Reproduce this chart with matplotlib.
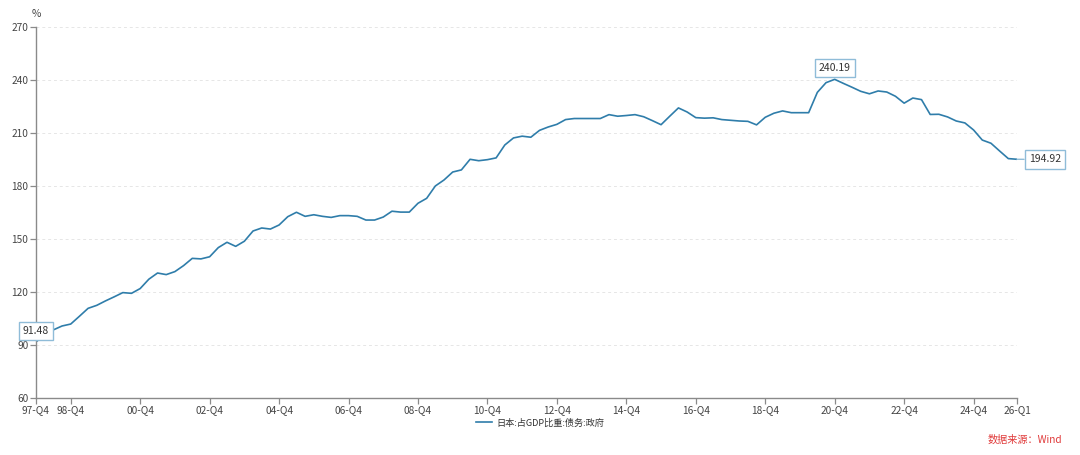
import matplotlib
matplotlib.use("Agg")
import matplotlib.pyplot as plt

plt.rcParams['font.family'] = ['Noto Sans CJK SC', 'DejaVu Sans']

# ---- data ----
series_name = "日本:占GDP比重:债务:政府"
values = [
    91.48, 95.5, 98.3, 100.5, 101.6, 106.0, 110.5, 112.2, 114.7, 117.0,
    119.4, 119.0, 121.7, 127.0, 130.5, 129.6, 131.3, 134.7, 138.8, 138.5,
    139.7, 144.9, 147.9, 145.6, 148.5, 154.3, 156.0, 155.4, 157.7, 162.4,
    164.9, 162.6, 163.5, 162.6, 162.0, 163.0, 163.0, 162.6, 160.5, 160.5,
    162.2, 165.5, 165.0, 165.0, 170.0, 172.8, 179.8, 183.2, 187.7, 188.9,
    194.9, 194.1, 194.7, 195.7, 203.0, 207.0, 208.0, 207.4, 211.3, 213.2,
    214.7, 217.4, 218.0, 218.0, 218.0, 218.0, 220.2, 219.3, 219.7, 220.2,
    219.0, 216.8, 214.5, 219.3, 224.0, 221.7, 218.5, 218.2, 218.4, 217.4,
    217.0, 216.6, 216.4, 214.4, 218.7, 221.0, 222.3, 221.3, 221.3, 221.3,
    232.8, 238.3, 240.19, 237.9, 235.7, 233.4, 232.0, 233.6, 233.0, 230.6,
    226.7, 229.6, 228.7, 220.3, 220.4, 218.9, 216.6, 215.5, 211.5, 205.8,
    204.0, 199.6, 195.3, 194.92,
]
tick_labels = ["97-Q4", "98-Q4", "00-Q4", "02-Q4", "04-Q4", "06-Q4", "08-Q4",
               "10-Q4", "12-Q4", "14-Q4", "16-Q4", "18-Q4", "20-Q4", "22-Q4",
               "24-Q4", "26-Q1"]
tick_index = [0, 4, 12, 20, 28, 36, 44, 52, 60, 68, 76, 84, 92, 100, 108, 113]
y_ticks = [60, 90, 120, 150, 180, 210, 240, 270]
source_text = "数据来源：Wind"

line_color = "#2F7DAA"
box_edge = "#8FBCD8"

W, H = 1080, 455
fig = plt.figure(figsize=(W / 100, H / 100), dpi=100)
ax = fig.add_axes([36 / W, 1 - 397.5 / H, (1017 - 36) / W, (397.5 - 26.7) / H])

x = list(range(len(values)))
ln, = ax.plot(x, values, color=line_color, lw=1.2, label=series_name)

ax.set_xlim(0, len(values) - 1)
ax.set_ylim(60, 270)
ax.set_yticks(y_ticks)
ax.set_xticks(tick_index)
ax.set_xticklabels(tick_labels)

for s in ["top", "right"]:
    ax.spines[s].set_visible(False)
for s in ["left", "bottom"]:
    ax.spines[s].set_color("#8a8a8a")
    ax.spines[s].set_linewidth(1.0)

ax.tick_params(axis="both", colors="#8a8a8a", labelcolor="#444444",
               labelsize=7.3, length=4, width=0.9, pad=1.5)
ax.yaxis.grid(True, linestyle=(0, (3, 3)), color="#e6e6e6", lw=0.7)
ax.set_axisbelow(True)

bbox = dict(boxstyle="square,pad=0.4", fc="white", ec=box_edge, lw=1.0)
# first point label
ax.text(0, 97.7, f"{values[0]:.2f}", ha="center", va="center", fontsize=7.5,
        color="#333333", bbox=bbox, clip_on=False, zorder=5)
# max label
imax = values.index(max(values))
ax.text(imax, 246.6, f"{values[imax]:.2f}", ha="center", va="center",
        fontsize=7.5, color="#333333", bbox=bbox, clip_on=False, zorder=5)
# last label with callout
ilast = len(values) - 1
ax.annotate(f"{values[-1]:.2f}", xy=(ilast, values[-1]), xytext=(116.2, 194.8),
            ha="center", va="center", fontsize=7.5, color="#333333",
            bbox=bbox, annotation_clip=False, zorder=5,
            arrowprops=dict(arrowstyle="-", color=box_edge, lw=1.0,
                            shrinkA=0, shrinkB=0))

fig.text(36 / W, 1 - 14 / H, "%", ha="center", va="center", fontsize=7.3,
         color="#444444")
fig.legend(handles=[ln], loc="center", bbox_to_anchor=(540 / W, 1 - 423 / H),
           frameon=False, fontsize=6.6, handlelength=1.8, handletextpad=0.4,
           labelcolor="#333333")
fig.text(1062 / W, 1 - 440 / H, source_text, ha="right", va="center",
         fontsize=7.3, color="#e03a3a")

fig.savefig("out.png", dpi=100)
